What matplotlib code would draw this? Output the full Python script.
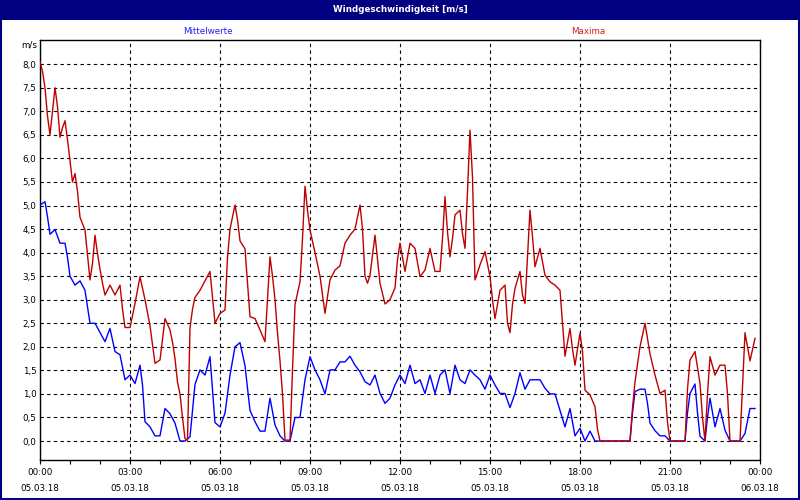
import matplotlib
matplotlib.use('Agg')
import numpy as np
import matplotlib.pyplot as plt
from matplotlib.patches import Rectangle
from matplotlib.ticker import MultipleLocator, FixedLocator, FuncFormatter

# Windgeschwindigkeit 05.03.18 - (minutes after 00:00, m/s)
mittel = [(0, 5.01), (10, 5.08), (15, 4.76), (20, 4.39), (30, 4.49), (40, 4.2), (50, 4.2),
          (55, 3.9), (60, 3.5), (70, 3.31), (80, 3.4), (90, 3.2), (100, 2.5), (110, 2.5),
          (130, 2.11), (140, 2.39), (150, 1.9), (160, 1.83), (170, 1.3), (180, 1.4),
          (190, 1.22), (200, 1.61), (205, 1.19), (210, 0.41), (220, 0.3), (230, 0.11),
          (240, 0.11), (250, 0.69), (260, 0.58), (270, 0.38), (280, 0.0), (290, 0.0),
          (300, 0.09), (310, 1.2), (320, 1.51), (330, 1.4), (340, 1.79), (350, 0.39),
          (360, 0.3), (370, 0.59), (380, 1.4), (390, 2.0), (400, 2.09), (410, 1.6),
          (420, 0.65), (430, 0.41), (440, 0.21), (450, 0.21), (460, 0.91), (470, 0.34),
          (480, 0.11), (490, 0.0), (500, 0.0), (510, 0.5), (520, 0.5), (530, 1.3),
          (540, 1.79), (550, 1.51), (560, 1.3), (570, 1.0), (580, 1.51), (590, 1.51),
          (600, 1.68), (610, 1.68), (620, 1.8), (630, 1.61), (640, 1.47), (650, 1.26),
          (660, 1.19), (670, 1.4), (680, 1.01), (690, 0.8), (700, 0.91), (710, 1.19),
          (720, 1.4), (730, 1.22), (740, 1.61), (750, 1.22), (760, 1.3), (770, 1.01),
          (780, 1.4), (790, 1.01), (800, 1.4), (810, 1.51), (820, 1.01), (830, 1.61),
          (840, 1.3), (850, 1.22), (860, 1.51), (870, 1.4), (880, 1.3), (890, 1.1),
          (900, 1.4), (910, 1.19), (920, 1.01), (930, 1.01), (940, 0.71), (950, 1.01),
          (960, 1.45), (970, 1.1), (980, 1.3), (990, 1.3), (1000, 1.3), (1010, 1.12),
          (1020, 1.0), (1030, 1.0), (1040, 0.65), (1050, 0.3), (1060, 0.69), (1070, 0.11),
          (1080, 0.27), (1090, 0.0), (1100, 0.21), (1110, 0.0), (1180, 0.0), (1185, 0.6),
          (1190, 1.05), (1200, 1.1), (1210, 1.1), (1215, 0.8), (1220, 0.38), (1230, 0.22),
          (1240, 0.11), (1250, 0.11), (1260, 0.0), (1290, 0.0), (1295, 0.6), (1300, 1.01),
          (1310, 1.21), (1315, 0.6), (1320, 0.1), (1330, 0.0), (1335, 0.5), (1340, 0.91),
          (1350, 0.3), (1360, 0.69), (1370, 0.23), (1380, 0.0), (1400, 0.0), (1410, 0.16),
          (1420, 0.69), (1430, 0.69)]

maxima = [(0, 8.05), (5, 7.85), (10, 7.5), (15, 6.9), (20, 6.5), (25, 7.0), (30, 7.5),
          (35, 7.1), (40, 6.45), (45, 6.65), (50, 6.8), (55, 6.4), (60, 5.95), (65, 5.5),
          (70, 5.68), (75, 5.3), (80, 4.75), (90, 4.48), (95, 3.95), (100, 3.42), (105, 3.77),
          (110, 4.37), (115, 3.98), (120, 3.65), (125, 3.35), (130, 3.1), (140, 3.31),
          (150, 3.1), (160, 3.31), (165, 2.8), (170, 2.41), (180, 2.41), (190, 2.92),
          (200, 3.49), (210, 3.0), (220, 2.45), (230, 1.65), (240, 1.72), (250, 2.6),
          (260, 2.36), (265, 2.1), (270, 1.75), (275, 1.25), (280, 1.0), (285, 0.5),
          (290, 0.05), (295, 0.02), (300, 2.4), (305, 2.8), (310, 3.05), (320, 3.2),
          (330, 3.4), (340, 3.6), (350, 2.5), (360, 2.71), (370, 2.78), (375, 3.9),
          (380, 4.5), (390, 5.01), (395, 4.7), (400, 4.25), (410, 4.08), (420, 2.64),
          (430, 2.6), (440, 2.36), (450, 2.11), (460, 3.91), (465, 3.5), (470, 3.0),
          (475, 2.3), (480, 1.7), (485, 1.0), (490, 0.02), (500, 0.02), (505, 1.5),
          (510, 2.9), (520, 3.38), (525, 4.3), (530, 5.41), (535, 4.9), (540, 4.48),
          (550, 4.0), (560, 3.5), (570, 2.71), (580, 3.42), (590, 3.63), (600, 3.72),
          (610, 4.2), (620, 4.37), (630, 4.5), (640, 5.01), (645, 4.5), (650, 3.5),
          (655, 3.35), (660, 3.52), (670, 4.37), (680, 3.35), (690, 2.91), (700, 3.0),
          (710, 3.25), (715, 3.85), (720, 4.2), (730, 3.6), (740, 4.2), (750, 4.09),
          (760, 3.49), (770, 3.63), (780, 4.09), (790, 3.6), (800, 3.6), (805, 4.3),
          (810, 5.19), (815, 4.44), (820, 3.91), (825, 4.3), (830, 4.8), (840, 4.9),
          (845, 4.4), (850, 4.09), (855, 5.3), (860, 6.6), (865, 5.6), (870, 3.42),
          (880, 3.74), (890, 4.02), (900, 3.49), (905, 3.0), (910, 2.6), (920, 3.2),
          (930, 3.31), (935, 2.5), (940, 2.3), (945, 2.9), (950, 3.24), (960, 3.6),
          (965, 3.1), (970, 2.92), (975, 3.9), (980, 4.9), (985, 4.34), (990, 3.7),
          (1000, 4.09), (1010, 3.52), (1020, 3.38), (1030, 3.31), (1040, 3.2), (1045, 2.5),
          (1050, 1.8), (1060, 2.39), (1065, 1.95), (1070, 1.61), (1080, 2.29), (1085, 1.9),
          (1090, 1.08), (1100, 0.98), (1110, 0.73), (1115, 0.25), (1120, 0.0), (1180, 0.0),
          (1185, 0.7), (1190, 1.26), (1200, 2.0), (1210, 2.5), (1220, 1.85), (1230, 1.4),
          (1240, 1.01), (1250, 1.08), (1255, 0.4), (1260, 0.0), (1290, 0.0), (1295, 1.1),
          (1300, 1.72), (1310, 1.9), (1320, 1.22), (1325, 0.5), (1330, 0.0), (1335, 1.0),
          (1340, 1.79), (1350, 1.4), (1360, 1.61), (1370, 1.61), (1375, 1.0), (1380, 0.0),
          (1400, 0.0), (1405, 1.15), (1410, 2.3), (1415, 2.0), (1420, 1.7), (1430, 2.18)]

x_labels = ['00:00\n05.03.18', '03:00\n05.03.18', '06:00\n05.03.18', '09:00\n05.03.18',
            '12:00\n05.03.18', '15:00\n05.03.18', '18:00\n05.03.18', '21:00\n05.03.18',
            '00:00\n06.03.18']
y_ticks = np.arange(0, 8.01, 0.5)

NAVY = '#000080'
BLUE = '#0000ff'
RED = '#c00000'
FONT = 'DejaVu Sans'

fig = plt.figure(figsize=(8, 5), dpi=100)
fig.patch.set_facecolor('white')

# title bar and window border
fig.patches.append(Rectangle((0, 0.96), 1, 0.04, transform=fig.transFigure,
                             facecolor=NAVY, edgecolor='none', zorder=0))
fig.patches.append(Rectangle((0.001, 0.002), 0.998, 0.99, transform=fig.transFigure,
                             facecolor='none', edgecolor=NAVY, linewidth=1.5, zorder=0))
fig.text(0.5, 0.98, 'Windgeschwindigkeit [m/s]', color='white', fontsize=6.3,
         fontweight='bold', ha='center', va='center', family=FONT)

ax = fig.add_axes([0.05, 0.08, 0.9, 0.84])

mx, my = zip(*mittel)
rx, ry = zip(*maxima)
ax.plot(mx, my, color=BLUE, linewidth=1.0, zorder=3)
ax.plot(rx, ry, color=RED, linewidth=1.0, zorder=4)

ax.set_xlim(0, 1440)
ax.set_xticks(range(0, 1441, 180))
ax.xaxis.set_minor_locator(MultipleLocator(60))
ax.set_xticklabels(x_labels, fontsize=6.3, family=FONT, linespacing=1.9)

ax.yaxis.set_major_locator(FixedLocator(y_ticks))
ax.yaxis.set_major_formatter(FuncFormatter(lambda v, p: f'{v:.1f}'.replace('.', ',')))
ax.set_ylim(-0.403, 8.514)
for lab in ax.get_yticklabels():
    lab.set_family(FONT)

ax.tick_params(axis='x', which='both', direction='out', length=3, width=0.8, pad=3)
ax.tick_params(axis='y', which='both', length=0, pad=2.5, labelsize=6.3)

ax.grid(True, which='major', color='black', linestyle=(0, (3, 3)), linewidth=0.8)
for sp in ax.spines.values():
    sp.set_color('black')
    sp.set_linewidth(1.0)

fig.text(0.046, 0.91, 'm/s', fontsize=6.3, ha='right', va='center', family=FONT)
fig.text(0.26, 0.938, 'Mittelwerte', color='#2222ee', fontsize=6.3, ha='center',
         va='center', family=FONT)
fig.text(0.735, 0.938, 'Maxima', color='#cc2222', fontsize=6.3, ha='center',
         va='center', family=FONT)

fig.savefig('out.png', dpi=100, facecolor=fig.get_facecolor())
